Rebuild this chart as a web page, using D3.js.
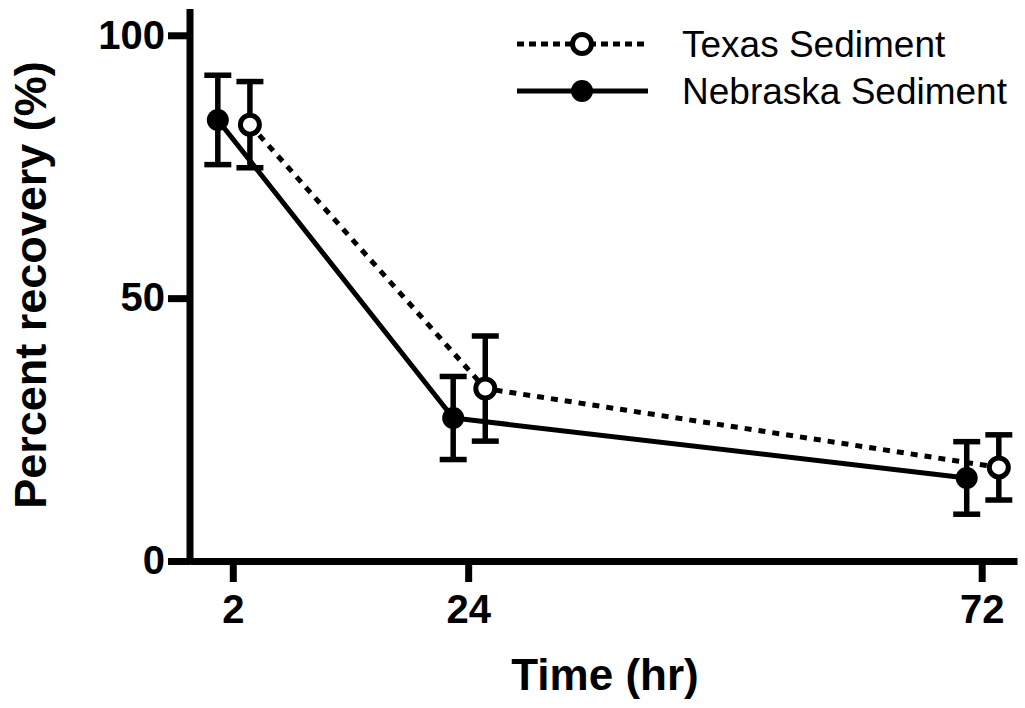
<!DOCTYPE html>
<html>
<head>
<meta charset="utf-8">
<script src="https://cdn.jsdelivr.net/npm/d3@7"></script>
<style>
  html, body { margin: 0; padding: 0; background: #fff; }
  svg { display: block; font-family: "Liberation Sans", Arial, sans-serif; }
</style>
</head>
<body>
<div id="chart"></div>
<script>
// time points (hr)
const times = [2, 24, 72];
const xTicks = [2, 24, 72];
const yTicks = [0, 50, 100];

// mean and SEM
const texasMean = [83.0, 32.8, 17.8];
const texasErr = [8.2, 10.0, 6.2];
const nebraskaMean = [83.9, 27.2, 15.8];
const nebraskaErr = [8.5, 7.9, 6.9];

const seriesNames = ['Texas Sediment', 'Nebraska Sediment'];

const W = 1025, H = 708;

const svg = d3.select('#chart').append('svg')
    .attr('width', W)
    .attr('height', H);

// --- scales ---
const x = d3.scaleLinear().domain([-2, 75.3]).range([190, 1017]);
const y = d3.scaleLinear().domain([0, 105]).range([561, 9]);

// points are nudged sideways so the error bars don't overlap
const series = [
    { name: seriesNames[0], mean: texasMean, err: texasErr, nudge: 1.6, open: true },
    { name: seriesNames[1], mean: nebraskaMean, err: nebraskaErr, nudge: -1.4, open: false }
];
series.forEach(s => {
    s.points = times.map((t, i) => ({ t: t + s.nudge, v: s.mean[i], e: s.err[i] }));
});

// --- axes ---
const yAxis = svg.append('g')
    .attr('transform', `translate(${x(-2)},0)`)
    .call(d3.axisLeft(y).tickValues(yTicks).tickSize(22).tickSizeOuter(0).tickPadding(3));

const xAxis = svg.append('g')
    .attr('transform', `translate(0,${y(0)})`)
    .call(d3.axisBottom(x).tickValues(xTicks).tickSize(21).tickSizeOuter(0));

[yAxis, xAxis].forEach(a => {
    a.select('.domain').attr('stroke', '#000').attr('stroke-width', 7);
    a.selectAll('.tick line').attr('stroke', '#000').attr('stroke-width', 7);
    a.selectAll('.tick text')
        .attr('fill', '#000')
        .style('font-size', '40px')
        .style('font-weight', 'bold');
});
yAxis.select('.domain').attr('d', `M0,${y(0) + 3.5}V${y(105)}`);
xAxis.selectAll('.tick text').attr('y', 62).attr('dy', null);

// axis titles
svg.append('text')
    .attr('x', 605)
    .attr('y', 690)
    .attr('text-anchor', 'middle')
    .style('font-size', '44px')
    .style('font-weight', 'bold')
    .text('Time (hr)');

svg.append('text')
    .attr('transform', 'translate(46,285) rotate(-90)')
    .attr('text-anchor', 'middle')
    .style('font-size', '45px')
    .style('font-weight', 'bold')
    .text('Percent recovery (%)');

// --- lines ---
const line = d3.line().x(d => x(d.t)).y(d => y(d.v));

series.forEach(s => {
    svg.append('path')
        .datum(s.points)
        .attr('fill', 'none')
        .attr('stroke', '#000')
        .attr('stroke-width', 5)
        .attr('stroke-dasharray', s.open ? '7,7' : null)
        .attr('d', line);
});

// --- error bars ---
const capW = 13.5;
series.forEach(s => {
    const g = svg.append('g').attr('stroke', '#000').attr('stroke-width', 5.5);
    const bars = g.selectAll('g.err').data(s.points).join('g').attr('class', 'err');
    bars.append('line')
        .attr('x1', d => x(d.t)).attr('x2', d => x(d.t))
        .attr('y1', d => y(d.v + d.e)).attr('y2', d => y(d.v - d.e));
    bars.append('line')
        .attr('x1', d => x(d.t) - capW).attr('x2', d => x(d.t) + capW)
        .attr('y1', d => y(d.v + d.e)).attr('y2', d => y(d.v + d.e));
    bars.append('line')
        .attr('x1', d => x(d.t) - capW).attr('x2', d => x(d.t) + capW)
        .attr('y1', d => y(d.v - d.e)).attr('y2', d => y(d.v - d.e));
});

// --- markers ---
series.forEach(s => {
    svg.append('g').selectAll('circle')
        .data(s.points)
        .join('circle')
        .attr('cx', d => x(d.t))
        .attr('cy', d => y(d.v))
        .attr('r', s.open ? 9.5 : 11)
        .attr('fill', s.open ? '#fff' : '#000')
        .attr('stroke', '#000')
        .attr('stroke-width', s.open ? 5 : 0);
});

// --- legend ---
const legend = svg.append('g');
series.forEach((s, i) => {
    const ly = 44 + i * 47;
    legend.append('line')
        .attr('x1', 517).attr('x2', 648)
        .attr('y1', ly).attr('y2', ly)
        .attr('stroke', '#000')
        .attr('stroke-width', 5)
        .attr('stroke-dasharray', s.open ? '7,5' : null);
    legend.append('circle')
        .attr('cx', 582).attr('cy', ly)
        .attr('r', s.open ? 9.5 : 11)
        .attr('fill', s.open ? '#fff' : '#000')
        .attr('stroke', '#000')
        .attr('stroke-width', s.open ? 5 : 0);
    legend.append('text')
        .attr('x', 682)
        .attr('y', ly)
        .attr('dy', '0.36em')
        .style('font-size', '37px')
        .text(s.name);
});
</script>
</body>
</html>
